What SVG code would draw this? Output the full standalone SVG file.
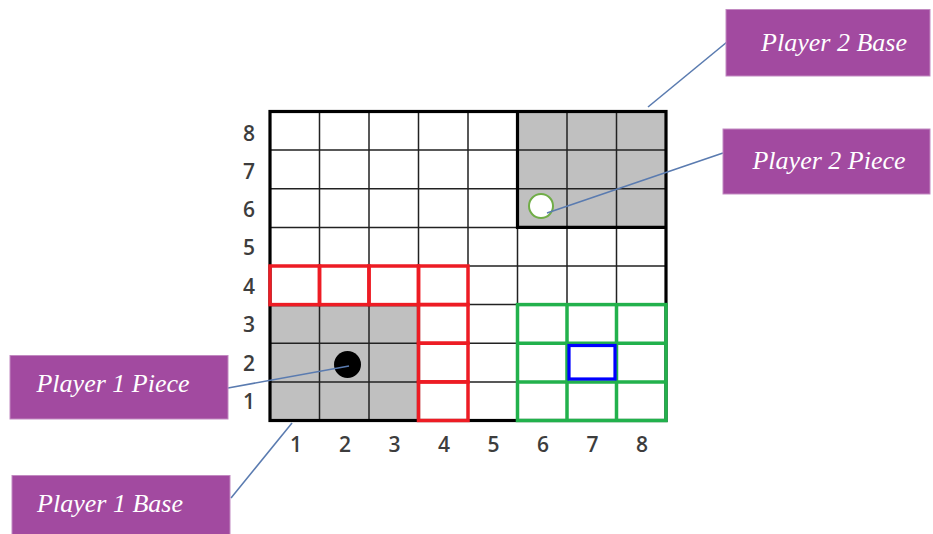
<svg xmlns="http://www.w3.org/2000/svg" width="933" height="534" viewBox="0 0 933 534">
<style>
.thin{stroke:#222;stroke-width:1.5;fill:none}
.thick{stroke:#000;stroke-width:3.2;fill:none}
.base{fill:#c0c0c0}
.red{stroke:#ed1c24;stroke-width:3.5;fill:none}
.green{stroke:#22b14c;stroke-width:3.5;fill:none}
.axis{font-family:"Open Sans","Liberation Sans",sans-serif;font-weight:600;font-size:21px;fill:#3d3d3d;text-anchor:middle}
.box{fill:#a24aa0;stroke:#c28ac1;stroke-width:1}
.lbl{font-family:"Liberation Serif","DejaVu Serif",serif;font-style:italic;font-size:26px;fill:#fff;text-anchor:middle}
.conn{stroke:#5a7bb0;stroke-width:1.6;fill:none}
</style>
<rect width="933" height="534" fill="#fff"/>
<g id="board">
<rect x="270" y="111.5" width="396" height="309" fill="#fff"/>
<rect class="base" x="517.5" y="111.5" width="148.5" height="115.9"/>
<rect class="base" x="270" y="304.6" width="148.5" height="115.9"/>
<g class="thin">
<path d="M319.5 111.5V420.5M369 111.5V420.5M418.5 111.5V420.5M468 111.5V420.5M517.5 111.5V420.5M567 111.5V420.5M616.5 111.5V420.5"/>
<path d="M270 150.1H666M270 188.75H666M270 227.4H666M270 266H666M270 304.6H666M270 343.25H666M270 381.9H666"/>
</g>
<rect class="thick" x="270" y="111.5" width="396" height="309"/>
<path class="thick" d="M517.5 111.5V227.4H666"/>
<path class="thick" d="M270 304.6H418.5V420.5"/>
<g class="red">
<rect x="270" y="266" width="49.5" height="38.6"/>
<rect x="319.5" y="266" width="49.5" height="38.6"/>
<rect x="369" y="266" width="49.5" height="38.6"/>
<rect x="418.5" y="266" width="49.5" height="38.6"/>
<rect x="418.5" y="304.6" width="49.5" height="38.65"/>
<rect x="418.5" y="343.25" width="49.5" height="38.65"/>
<rect x="418.5" y="381.9" width="49.5" height="38.6"/>
</g>
<g class="green">
<rect x="517.5" y="304.6" width="148.5" height="115.9"/>
<path d="M567 304.6V420.5M616.5 304.6V420.5M517.5 343.25H666M517.5 381.9H666"/>
</g>
<rect x="569" y="345.5" width="46" height="33.5" fill="#fff" stroke="#0000ff" stroke-width="3.2"/>
</g>
<g id="axis-rows" class="axis">
<text x="249" y="141">8</text>
<text x="249" y="178.5">7</text>
<text x="249" y="216.5">6</text>
<text x="249" y="255">5</text>
<text x="249" y="293.5">4</text>
<text x="249" y="332">3</text>
<text x="249" y="370.5">2</text>
<text x="249" y="409">1</text>
</g>
<g id="axis-cols" class="axis">
<text x="296" y="451.5">1</text>
<text x="345" y="451.5">2</text>
<text x="394.5" y="451.5">3</text>
<text x="444" y="451.5">4</text>
<text x="493.5" y="451.5">5</text>
<text x="543" y="451.5">6</text>
<text x="592.5" y="451.5">7</text>
<text x="642" y="451.5">8</text>
</g>
<g id="piece1"><circle cx="347.5" cy="364.5" r="13.5" fill="#000"/></g>
<g id="piece2"><circle cx="541" cy="206" r="12" fill="#fff" stroke="#70ad47" stroke-width="2"/></g>
<g id="connectors">
<line class="conn" x1="648" y1="107" x2="727" y2="42"/>
<line class="conn" x1="547" y1="213" x2="723" y2="153"/>
<line class="conn" x1="228" y1="388" x2="349" y2="366"/>
<line class="conn" x1="231" y1="498" x2="292" y2="423"/>
</g>
<g id="label-p2base">
<rect class="box" x="726" y="9.5" width="204" height="66.5"/>
<text class="lbl" x="834" y="51">Player 2 Base</text>
</g>
<g id="label-p2piece">
<rect class="box" x="723" y="129" width="207" height="65"/>
<text class="lbl" x="829" y="169">Player 2 Piece</text>
</g>
<g id="label-p1piece">
<rect class="box" x="10" y="355.5" width="218" height="63.5"/>
<text class="lbl" x="113" y="392">Player 1 Piece</text>
</g>
<g id="label-p1base">
<rect class="box" x="12" y="475.5" width="218" height="60"/>
<text class="lbl" x="110" y="512">Player 1 Base</text>
</g>
</svg>
